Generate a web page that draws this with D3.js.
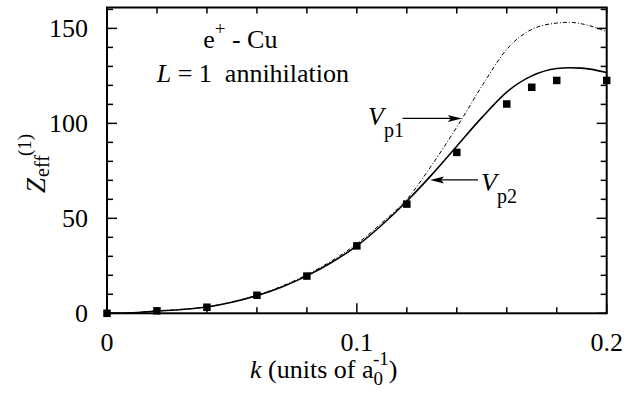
<!DOCTYPE html>
<html>
<head>
<meta charset="utf-8">
<script src="https://cdn.jsdelivr.net/npm/d3@7"></script>
<style>
  body { margin: 0; background: #fff; }
  #fig text, #fig tspan { font-family: 'Liberation Serif', 'Times New Roman', Times, serif !important; }
</style>
</head>
<body>
<svg id="fig" width="635" height="393"></svg>
<script>
// data
var kData = [0, 0.02, 0.04, 0.06, 0.08, 0.10, 0.12, 0.14, 0.16, 0.17, 0.18, 0.20]
var zData = [0, 1.3, 3.2, 9.5, 19.6, 35.5, 57.5, 84.7, 110.2, 119, 122.6, 122.6]

var kCurve = [0, 0.01, 0.02, 0.03, 0.04, 0.05, 0.06, 0.07, 0.08, 0.09, 0.10, 0.11, 0.12, 0.13, 0.14, 0.15, 0.16, 0.17, 0.18, 0.185, 0.19, 0.20]
var vp1 = [0, 0.3, 1.2, 2.1, 3.4, 6.0, 9.5, 14.3, 20.3, 27.7, 36.6, 47.6, 60, 78, 98, 119.5, 139, 149.5, 152.8, 153.2, 152.4, 148.3]
var vp2 = [0, 0.3, 1.2, 2.0, 3.3, 5.8, 9.3, 13.9, 19.7, 26.9, 35.5, 46.5, 59, 73, 88, 103, 116.5, 125, 128.9, 129.3, 129.1, 126.8]

var xTicks = [0, 0.1, 0.2]
var yTicks = [0, 50, 100, 150]

var svg = d3.select("#fig")
var pLeft = 107, pRight = 606.7, pTop = 7.5, pBottom = 313.3
var fs = 26
var serif = "'Liberation Serif', 'Times New Roman', Times, serif"

var x = d3.scaleLinear().domain([0, 0.2]).range([pLeft, pRight])
var y = d3.scaleLinear().domain([0, 161]).range([pBottom, pTop])

// ticks
var minorX = d3.range(0, 0.2001, 0.02)
var minorY = d3.range(0, 161, 10)

var g = svg.append("g").attr("stroke", "#000").attr("stroke-width", 1.5)
minorX.forEach(function(d) {
  var major = xTicks.some(function(t) { return Math.abs(t - d) < 1e-9 })
  g.append("line").attr("x1", x(d)).attr("x2", x(d)).attr("y1", pBottom).attr("y2", pBottom - (major ? 10 : 6))
  g.append("line").attr("x1", x(d)).attr("x2", x(d)).attr("y1", pTop).attr("y2", pTop + 6)
})
minorY.forEach(function(d) {
  var major = d % 50 === 0
  g.append("line").attr("y1", y(d)).attr("y2", y(d)).attr("x1", pLeft).attr("x2", pLeft + (major ? 10 : 6))
  g.append("line").attr("y1", y(d)).attr("y2", y(d)).attr("x1", pRight).attr("x2", pRight - (major ? 10 : 6))
})

// frame
svg.append("rect")
  .attr("x", pLeft).attr("y", pTop)
  .attr("width", pRight - pLeft).attr("height", pBottom - pTop)
  .attr("fill", "none").attr("stroke", "#000").attr("stroke-width", 2)

// tick labels
svg.selectAll(".xl").data(xTicks).enter().append("text")
  .attr("x", function(d) { return x(d) }).attr("y", 351)
  .attr("text-anchor", "middle").attr("font-size", fs)
  .text(function(d) { return d === 0 ? "0" : d3.format(".1f")(d) })
svg.selectAll(".yl").data(yTicks).enter().append("text")
  .attr("x", 88).attr("y", function(d) { return y(d) + 9 })
  .attr("text-anchor", "end").attr("font-size", fs)
  .text(function(d) { return d })

// curves
var line = d3.line().curve(d3.curveMonotoneX)
  .x(function(d) { return x(d[0]) }).y(function(d) { return y(d[1]) })
svg.append("path").datum(d3.zip(kCurve, vp1))
  .attr("d", line).attr("fill", "none").attr("stroke", "#000")
  .attr("stroke-width", 1).attr("stroke-dasharray", "4,2,1,2")
svg.append("path").datum(d3.zip(kCurve, vp2))
  .attr("d", line).attr("fill", "none").attr("stroke", "#000").attr("stroke-width", 1.6)

// data squares
var sq = 7.5
svg.selectAll(".pt").data(d3.zip(kData, zData)).enter().append("rect")
  .attr("x", function(d) { return x(d[0]) - sq / 2 })
  .attr("y", function(d) { return y(d[1]) - sq / 2 })
  .attr("width", sq).attr("height", sq).attr("fill", "#000")

// arrows
function arrow(k0, k1, v) {
  var x0 = x(k0), x1 = x(k1), yy = y(v)
  var dir = x1 > x0 ? 1 : -1
  svg.append("line").attr("x1", x0).attr("x2", x1 - dir * 4).attr("y1", yy).attr("y2", yy)
    .attr("stroke", "#000").attr("stroke-width", 1.2)
  svg.append("path")
    .attr("d", "M" + x1 + "," + yy + "L" + (x1 - dir * 14) + "," + (yy - 3.5) + "L" + (x1 - dir * 11) + "," + yy + "L" + (x1 - dir * 14) + "," + (yy + 3.5) + "Z")
    .attr("fill", "#000")
}
arrow(0.1183, 0.1420, 102.6)
arrow(0.1485, 0.1293, 70.2)

// labels
function vLabel(k, v, sub) {
  var t = svg.append("text").attr("x", x(k)).attr("y", y(v)).attr("font-size", fs)
  t.append("tspan").attr("font-style", "italic").text("V")
  t.append("tspan").attr("font-size", 20).attr("dy", 12).text(sub)
}
vLabel(0.1045, 99.1, "p1")
vLabel(0.1497, 64.6, "p2")

var t1 = svg.append("text").attr("x", x(0.0385)).attr("y", y(139.5)).attr("font-size", fs)
t1.append("tspan").text("e")
t1.append("tspan").attr("font-size", 19).attr("dy", -13).text("+")
t1.append("tspan").attr("dy", 13).text(" - Cu")

var t2 = svg.append("text").attr("x", x(0.0199)).attr("y", y(121.9)).attr("font-size", fs)
  .style("white-space", "pre")
t2.append("tspan").attr("font-style", "italic").text("L")
t2.append("tspan").text(" = 1  annihilation")

// x title
var xt = svg.append("text").attr("x", 250).attr("y", 378).attr("font-size", fs)
xt.append("tspan").attr("font-style", "italic").text("k")
xt.append("tspan").text(" (units of a")
xt.append("tspan").attr("font-size", 19).attr("dy", 7).text("0")
xt.append("tspan").attr("font-size", 19).attr("dx", -10).attr("dy", -20).text("-1")
xt.append("tspan").attr("dy", 13).text(")")

// y title
var yt = svg.append("g").attr("transform", "translate(45,193) rotate(-90)")
yt.append("text").attr("x", 0).attr("y", 0).attr("font-size", fs + 1).attr("font-style", "italic").text("Z")
yt.append("text").attr("x", 16).attr("y", 4).attr("font-size", 20).text("eff")
yt.append("text").attr("x", 37).attr("y", -14).attr("font-size", 19).text("(1)")

// serif face on every text node
svg.selectAll("text, tspan")
  .attr("font-family", serif)
  .style("font-family", serif, "important")
</script>
</body>
</html>
